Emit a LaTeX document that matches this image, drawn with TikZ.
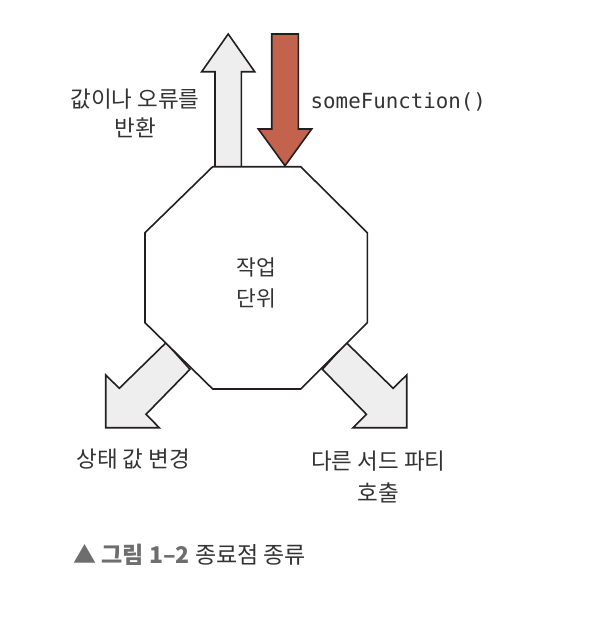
\documentclass[tikz,border=0pt]{standalone}
\usepackage{fontspec}
\setmainfont{Noto Sans CJK KR}
\newfontfamily\kr{Noto Sans CJK KR}
\newfontfamily\codefont{DejaVu Sans Mono}
\definecolor{linec}{HTML}{231F20}
\definecolor{lightfill}{HTML}{EEEEEE}
\definecolor{redfill}{HTML}{C3634E}
\definecolor{capgray}{HTML}{6E6E6E}
\definecolor{textc}{HTML}{333333}
\begin{document}
\begin{tikzpicture}[x=1pt,y=-1pt,
  outl/.style={draw=linec,line width=1.6pt,line join=miter},
  lbl/.style={font=\kr\fontsize{22.5}{29}\selectfont,text=textc,align=center,inner sep=0pt},
]
\useasboundingbox (0,0) rectangle (606,622);
% arrows
\draw[outl,fill=lightfill] (215,167) -- (215,71.7) -- (201.7,71.7) -- (228.2,34) -- (254.7,71.7) -- (241.4,71.7) -- (241.4,167) -- cycle;
\draw[outl,fill=redfill] (271.7,34) -- (271.7,129) -- (258.3,129) -- (285,165.7) -- (311.7,129) -- (298.3,129) -- (298.3,34) -- cycle;
\draw[outl,fill=lightfill] (166,342.7) -- (119.3,388.3) -- (105.7,375) -- (105.7,427.7) -- (159.3,427.7) -- (146,414.3) -- (190,369.3) -- cycle;
\draw[outl,fill=lightfill] (346.4,342.7) -- (393.1,388.3) -- (406.7,375) -- (406.7,427.7) -- (353.1,427.7) -- (366.4,414.3) -- (322.4,369.3) -- cycle;
% octagon
\draw[outl,fill=white] (212.7,166.7) coordinate (o1) -- (300.7,166.7) -- (367.3,232.7) -- (367.3,322.7) -- (300.7,389) -- (212.7,389) -- (145,322.7) -- (145,232.7) -- cycle;
% texts
\node[lbl,font=\kr\fontsize{21.5}{30.5}\selectfont] (unit) at (256,283) {작업\\단위};
\node[lbl] (ret) at (135,113.5) {값이나 오류를\\반환};
\node[anchor=west,inner sep=0pt,text=textc,font=\codefont\fontsize{20.8}{24}\selectfont] (call) at (310.5,101.5) {someFunction()};
\node[lbl] (state) at (133.3,459.5) {상태 값 변경};
\node[lbl,font=\kr\fontsize{22.5}{32}\selectfont] (third) at (378.3,476.5) {다른 서드 파티\\호출};
\node[anchor=west,inner sep=0pt,font=\kr\fontsize{23}{26}\selectfont] (cap) at (73.3,555)
  {\textcolor{capgray}{▲ \textbf{그림 1–2}} \textcolor{textc}{종료점 종류}};
\end{tikzpicture}
\end{document}
